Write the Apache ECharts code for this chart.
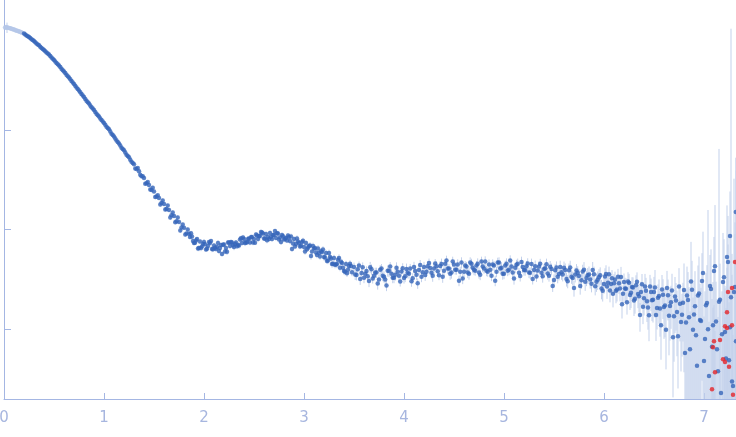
<!DOCTYPE html>
<html><head><meta charset="utf-8">
<script src="https://cdn.jsdelivr.net/npm/echarts@6/dist/echarts.min.js"></script>
<style>html,body{margin:0;padding:0;background:#fff}#c{width:736px;height:437px}</style>
</head><body><div id="c"></div>
<script>
// x tick labels / y tick positions
const xTicks = [0, 1, 2, 3, 4, 5, 6, 7];
const yTicks = [0.001, 0.01, 0.1];

// excluded low-q points (light)
const qLow = [0.01,0.02,0.03,0.04,0.05,0.06,0.07,0.08,0.09,0.10,0.11,0.12,0.13,0.14,0.15,0.16,0.17,0.18];
const iLow = [1.06,1.065,1.06,1.055,1.05,1.04,1.035,1.025,1.02,1.01,1.0,0.99,0.985,0.975,0.965,0.96,0.95,0.94];
const eLow = [4,6,12,5,4,4,3,3,3,3,3,3,3,3,3,3,3,3];

// Guinier / steep region
const qB = [0.2,0.225,0.25,0.275,0.3,0.325,0.35,0.375,0.4,0.425,0.45,0.475,0.5,0.525,0.55,0.575,0.6,0.625,0.65,0.675,0.7,0.725,0.75,0.775,0.8,0.825,0.85,0.875,0.9,0.925,0.95,0.975,1.0,1.025,1.05,1.075,1.1,1.125,1.15,1.175,1.2,1.225,1.25,1.275,1.3,1.325,1.35,1.375,1.4,1.425,1.45,1.475,1.5,1.525,1.55,1.575,1.6,1.625,1.65,1.675,1.7,1.725,1.75,1.775,1.8,1.825,1.85];
const iB = [0.925,0.881,0.853,0.809,0.778,0.733,0.702,0.659,0.631,0.595,0.569,0.530,0.501,0.467,0.442,0.409,0.384,0.356,0.334,0.308,0.288,0.265,0.248,0.228,0.213,0.196,0.183,0.168,0.158,0.145,0.136,0.125,0.117,0.107,0.101,0.0915,0.0858,0.0779,0.0730,0.0660,0.0622,0.0561,0.0529,0.0477,0.0451,0.0404,0.0385,0.0343,0.0328,0.0291,0.0279,0.0249,0.0240,0.0214,0.0207,0.0185,0.0180,0.0161,0.0157,0.0139,0.0137,0.0121,0.0119,0.0105,0.0104,0.00915,0.00905];
const eB = [2,1,1,2,1,1,2,1,1,1,2,1,1,1,2,1,1,1,2,1,1,2,1,1,1,2,1,1,2,1,1,2,2,2,3,2,2,2,3,2,2,2,3,2,3,3,4,3,3,3,4,3,3,4,3,3,4,3,4,3,4,4,3,4,4,3,4];
const qB3 = [0.2125,0.2375,0.2625,0.2875,0.3125,0.3375,0.3625,0.3875,0.4125,0.4375,0.4625,0.4875,0.5125,0.5375,0.5625,0.5875,0.6125,0.6375,0.6625,0.6875,0.7125,0.7375,0.7625,0.7875,0.8125,0.8375,0.8625,0.8875,0.9125,0.9375,0.9625,0.9875,1.0125,1.0375,1.0625,1.0875,1.1125,1.1375,1.1625,1.1875,1.2125,1.2375,1.2625,1.2875];
const iB3 = [0.903,0.867,0.831,0.793,0.755,0.717,0.680,0.645,0.613,0.582,0.549,0.515,0.484,0.454,0.425,0.396,0.370,0.345,0.321,0.298,0.276,0.256,0.238,0.220,0.204,0.189,0.175,0.163,0.151,0.140,0.130,0.121,0.112,0.104,0.0960,0.0886,0.0817,0.0754,0.0694,0.0641,0.0591,0.0545,0.0502,0.0464];
const eB3 = [1,2,1,1,2,1,1,1,2,1,1,2,1,1,1,2,1,1,2,1,1,1,2,1,1,2,1,1,1,2,1,1,2,2,2,3,2,2,3,2,2,3,2,3];
const qB2 = [1.3125,1.3375,1.3625,1.3875,1.4125,1.4375,1.4625,1.4875,1.5125,1.5375,1.5625,1.5875,1.6125,1.6375,1.6625,1.6875,1.7125,1.7375,1.7625,1.7875,1.8125,1.8375];
const iB2 = [0.0408,0.0413,0.0355,0.0343,0.0288,0.0299,0.0252,0.0262,0.0212,0.0220,0.0178,0.0196,0.0159,0.0174,0.0132,0.0148,0.0118,0.0132,0.00977,0.0112,0.00891,0.0100];
const eB2 = [3,4,3,4,4,3,4,5,4,4,5,4,5,4,5,5,4,5,5,4,5,5];

// first minimum and bump
const qC = [1.86,1.88,1.9,1.92,1.94,1.96,1.98,2.0,2.02,2.04,2.06,2.08,2.1,2.12,2.14,2.16,2.18,2.2,2.22,2.24,2.26,2.28,2.3,2.32,2.34,2.36,2.38,2.4,2.42,2.44,2.46,2.48,2.5,2.52,2.54,2.56,2.58,2.6,2.62,2.64,2.66,2.68,2.7,2.72,2.74,2.76,2.78,2.8,2.82,2.84,2.86,2.88,2.9,2.92,2.94,2.96,2.98,3.0,3.02,3.04,3.06,3.08,3.1,3.12,3.14,3.16,3.18,3.2,3.22,3.24,3.26,3.28,3.3,3.32,3.34,3.36,3.38,3.4,3.42,3.44,3.46,3.48];
const iC = [0.00840,0.00850,0.00732,0.00775,0.00645,0.00757,0.00675,0.00749,0.00630,0.00683,0.00732,0.00637,0.00691,0.00637,0.00732,0.00652,0.00567,0.00707,0.00652,0.00740,0.00683,0.00740,0.00667,0.00740,0.00699,0.00793,0.00732,0.00802,0.00740,0.00802,0.00740,0.00840,0.00802,0.00890,0.00802,0.00860,0.00932,0.00811,0.00901,0.00840,0.00922,0.00802,0.00880,0.00821,0.00911,0.00830,0.00880,0.00793,0.00821,0.00870,0.00766,0.00637,0.00802,0.00715,0.00757,0.00675,0.00749,0.00667,0.00732,0.00659,0.00691,0.00601,0.00645,0.00587,0.00645,0.00535,0.00594,0.00529,0.00581,0.00488,0.00529,0.00450,0.00517,0.00445,0.00499,0.00415,0.00461,0.00383,0.00450,0.00396,0.00455,0.00374];
const eC = [5,6,5,7,6,5,6,7,5,6,6,7,5,6,7,6,5,6,7,6,6,5,7,6,6,7,5,6,6,7,6,5,7,6,6,7,6,5,6,7,6,6,7,5,6,7,6,6,7,6,7,6,6,7,7,6,7,6,7,7,8,7,6,7,8,7,7,8,7,8,7,8,8,7,8,8,9,8,8,9,8,9];
const qC2 = [1.87,1.91,1.95,1.99,2.03,2.07,2.11,2.15,2.19,2.23,2.27,2.31,2.35,2.39,2.43,2.47,2.51,2.55,2.59,2.63,2.67,2.71,2.75,2.79,2.83,2.87,2.91,2.95,2.99,3.03,3.07,3.11,3.15,3.19,3.23,3.27,3.31,3.35,3.39,3.43,3.47];
const iC2 = [0.00916,0.00735,0.00652,0.00718,0.00642,0.00766,0.00656,0.00608,0.00702,0.00597,0.00752,0.00718,0.00691,0.00834,0.00745,0.00836,0.00735,0.00860,0.00911,0.00782,0.00840,0.00965,0.00793,0.00856,0.00778,0.00850,0.00677,0.00732,0.00773,0.00634,0.00542,0.00652,0.00581,0.00630,0.00485,0.00511,0.00444,0.00517,0.00415,0.00364,0.00432];
const eC2 = [6,5,7,6,6,5,7,6,6,7,5,6,7,6,6,7,5,6,6,7,6,5,7,6,6,7,6,7,7,6,8,7,7,8,7,8,8,9,8,8,9];
const qC3 = [1.89,1.93,1.97,2.01,2.05,2.09,2.13,2.17,2.21,2.25,2.29,2.33,2.37,2.41,2.45,2.49,2.53,2.57,2.61,2.65,2.69,2.73,2.77,2.81,2.85,2.89,2.93,2.97,3.01,3.05,3.09,3.13,3.17,3.21,3.25,3.29,3.33,3.37,3.41,3.45];
const iC3 = [0.00766,0.00802,0.00652,0.00711,0.00749,0.00634,0.00667,0.00699,0.00602,0.00740,0.00694,0.00681,0.00817,0.00733,0.00811,0.00740,0.00872,0.00945,0.00813,0.00802,0.00880,0.00916,0.00752,0.00806,0.00844,0.00723,0.00815,0.00686,0.00601,0.00683,0.00683,0.00554,0.00604,0.00523,0.00581,0.00455,0.00450,0.00474,0.00378,0.00430];
const eC3 = [6,5,7,6,5,6,7,6,6,5,7,6,6,7,5,6,7,6,6,7,5,6,7,6,7,6,7,6,7,7,8,7,8,7,8,8,9,8,8,9];

// plateau
const qD = [3.5,3.525,3.55,3.575,3.6,3.625,3.65,3.675,3.7,3.725,3.75,3.775,3.8,3.825,3.85,3.875,3.9,3.925,3.95,3.975,4.0,4.025,4.05,4.075,4.1,4.125,4.15,4.175,4.2,4.225,4.25,4.275,4.3,4.325,4.35,4.375,4.4,4.425,4.45,4.475,4.5,4.525,4.55,4.575,4.6,4.625,4.65,4.675,4.7,4.725,4.75,4.775,4.8,4.825,4.85,4.875,4.9,4.925,4.95,4.975,5.0,5.025,5.05,5.075,5.1,5.125,5.15,5.175,5.2,5.225,5.25,5.275,5.3,5.325,5.35,5.375,5.4,5.425,5.45,5.475,5.5,5.525,5.55,5.575,5.6,5.625,5.65,5.675,5.7,5.725,5.75,5.775,5.8,5.825,5.85,5.875,5.9,5.925,5.95,5.975];
const iD = [0.00420,0.00351,0.00435,0.00366,0.00329,0.00385,0.00304,0.00399,0.00345,0.00370,0.00315,0.00406,0.00337,0.00274,0.00387,0.00361,0.00329,0.00415,0.00345,0.00379,0.00326,0.00403,0.00361,0.00303,0.00420,0.00353,0.00392,0.00337,0.00420,0.00378,0.00461,0.00368,0.00406,0.00428,0.00349,0.00452,0.00387,0.00488,0.00406,0.00370,0.00445,0.00396,0.00307,0.00466,0.00378,0.00425,0.00361,0.00455,0.00396,0.00435,0.00370,0.00477,0.00406,0.00387,0.00445,0.00345,0.00435,0.00378,0.00466,0.00415,0.00361,0.00455,0.00396,0.00425,0.00322,0.00444,0.00368,0.00473,0.00392,0.00428,0.00370,0.00452,0.00392,0.00339,0.00425,0.00368,0.00401,0.00448,0.00345,0.00403,0.00311,0.00416,0.00359,0.00373,0.00415,0.00319,0.00390,0.00336,0.00259,0.00388,0.00342,0.00310,0.00396,0.00326,0.00355,0.00286,0.00357,0.00300,0.00333,0.00256];
const eD = [11,12,10,13,12,11,13,12,11,12,12,11,13,12,14,11,12,13,12,11,12,13,11,12,13,12,11,12,13,12,11,12,13,12,11,13,12,12,11,13,12,11,12,13,12,11,13,12,12,11,13,12,11,12,13,12,11,12,13,12,12,13,12,11,13,12,12,13,12,13,12,13,14,12,13,13,12,14,13,13,14,15,14,16,15,16,17,15,18,16,17,18,19,17,20,18,19,21,20,22];
const qD2 = [3.512,3.537,3.562,3.587,3.612,3.637,3.662,3.687,3.712,3.737,3.762,3.787,3.812,3.837,3.862,3.887,3.912,3.937,3.962,3.987,4.012,4.037,4.062,4.087,4.112,4.137,4.162,4.187,4.212,4.237,4.262,4.287,4.312,4.337,4.362,4.387,4.412,4.437,4.462,4.487,4.512,4.537,4.562,4.587,4.612,4.637,4.662,4.687,4.712,4.737,4.762,4.787,4.812,4.837,4.862,4.887,4.912,4.937,4.962,4.987,5.012,5.037,5.062,5.087,5.112,5.137,5.162,5.187,5.212,5.237,5.262,5.287,5.312,5.337,5.362,5.387,5.412,5.437,5.462,5.487,5.512,5.537,5.562,5.587,5.612,5.637,5.662,5.687,5.712,5.737,5.762,5.787,5.812,5.837,5.862,5.887,5.912,5.937,5.962,5.987];
const iD2 = [0.00354,0.00400,0.00320,0.00418,0.00360,0.00341,0.00419,0.00323,0.00370,0.00287,0.00396,0.00345,0.00315,0.00387,0.00425,0.00329,0.00353,0.00378,0.00301,0.00410,0.00341,0.00369,0.00407,0.00325,0.00385,0.00289,0.00442,0.00373,0.00351,0.00428,0.00412,0.00344,0.00456,0.00381,0.00431,0.00336,0.00455,0.00406,0.00361,0.00477,0.00396,0.00445,0.00378,0.00322,0.00435,0.00370,0.00466,0.00415,0.00387,0.00455,0.00353,0.00425,0.00477,0.00378,0.00396,0.00445,0.00307,0.00466,0.00406,0.00361,0.00435,0.00387,0.00488,0.00370,0.00415,0.00453,0.00342,0.00420,0.00391,0.00456,0.00369,0.00319,0.00429,0.00388,0.00454,0.00341,0.00410,0.00362,0.00424,0.00272,0.00390,0.00336,0.00420,0.00355,0.00394,0.00303,0.00416,0.00327,0.00355,0.00369,0.00271,0.00379,0.00299,0.00348,0.00316,0.00394,0.00270,0.00314,0.00348,0.00243];
const eD2 = [12,11,13,12,11,12,13,11,12,13,11,12,12,13,11,12,13,12,11,12,13,12,11,12,13,12,12,11,13,12,12,13,11,12,12,13,11,12,13,12,11,13,12,12,11,12,13,12,11,13,12,12,13,11,12,13,12,12,11,13,12,12,13,12,12,13,12,13,12,13,13,12,14,13,12,14,13,13,14,13,15,14,16,15,16,15,17,16,17,16,18,17,19,18,19,20,19,21,20,22];

// noisy high-q tail
const qE = [6.0,6.02,6.04,6.06,6.08,6.1,6.12,6.14,6.16,6.18,6.2,6.22,6.24,6.26,6.28,6.3,6.32,6.34,6.36,6.38,6.4,6.42,6.44,6.46,6.48,6.5,6.52,6.54,6.56,6.58,6.6,6.62,6.64,6.66,6.68,6.7,6.72,6.74,6.76,6.78,6.8,6.82,6.84,6.86,6.88,6.9,6.92,6.94,6.96,6.98,7.0,7.02,7.04,7.06,7.08,7.1,7.12,7.14,7.16,7.18,7.2,7.22,7.24,7.26,7.28,7.3,7.32];
const iE = [0.00284,0.00359,0.00293,0.00245,0.00324,0.00290,0.00243,0.00336,0.00257,0.00178,0.00297,0.00255,0.00301,0.00220,0.00266,0.00194,0.00276,0.00226,0.00139,0.00282,0.00205,0.00243,0.00165,0.00268,0.00195,0.00236,0.00139,0.00207,0.00162,0.00250,0.00167,0.00099,0.00219,0.00171,0.00245,0.00135,0.00194,0.00085,0.00180,0.00140,0.00247,0.00117,0.00197,0.00063,0.00249,0.00141,0.00087,0.00218,0.00124,0.00305,0.00048,0.00174,0.00100,0.00271,0.00067,0.00383,0.00120,0.00038,0.00198,0.00089,0.00333,0.00051,0.00472,0.00105,0.00030,0.00236,0.00076];
const eE = [20,22,19,24,21,23,25,20,26,28,22,27,24,29,25,30,26,28,32,27,33,35,40,31,38,42,45,36,48,40,52,60,44,55,47,65,50,70,58,62,85,110,90,140,95,120,160,100,130,90,180,110,1470,105,200,120,150,250,130,170,140,220,190,160,300,1270,200];
const qE2 = [6.01,6.03,6.05,6.07,6.09,6.11,6.13,6.15,6.17,6.19,6.21,6.23,6.25,6.27,6.29,6.31,6.33,6.35,6.37,6.39,6.41,6.43,6.45,6.47,6.49,6.51,6.53,6.55,6.57,6.59,6.61,6.63,6.65,6.67,6.69,6.71,6.73,6.75,6.77,6.79,6.81,6.83,6.85,6.87,6.89,6.91,6.93,6.95,6.97,6.99,7.01,7.03,7.05,7.07,7.09,7.11,7.13,7.15,7.17,7.19,7.21,7.23,7.25,7.27,7.29,7.31,7.26,7.318,7.322];
const iE2 = [0.00338,0.00269,0.00357,0.00285,0.00227,0.00315,0.00250,0.00290,0.00335,0.00227,0.00257,0.00187,0.00292,0.00233,0.00263,0.00202,0.00300,0.00214,0.00236,0.00168,0.00268,0.00191,0.00138,0.00237,0.00198,0.00262,0.00163,0.00215,0.00110,0.00222,0.00173,0.00260,0.00137,0.00187,0.00083,0.00213,0.00149,0.00268,0.00118,0.00184,0.00058,0.00218,0.00132,0.00301,0.00099,0.00170,0.00043,0.00228,0.00121,0.00366,0.00080,0.00183,0.00034,0.00253,0.00110,0.00429,0.00063,0.00189,0.00023,0.00298,0.00094,0.00529,0.00049,0.00210,0.00027,0.00265,0.00860,0.0150,0.0130];
const eE2 = [21,25,19,23,27,20,24,22,26,21,28,25,23,30,26,29,24,31,27,33,34,38,45,36,41,50,39,47,55,43,52,48,60,46,75,57,64,53,68,59,120,95,100,150,110,125,180,135,115,160,200,140,250,150,170,310,220,3300,260,210,190,230,280,49000,300,240,180,250,200];

// flagged points (red)
const qRed = [7.31,7.28,7.24,7.23,7.21,7.23,7.28,7.10,7.16,7.09,7.19,7.21,7.25,7.11,7.08,7.29];
const iRed = [0.00472,0.00259,0.00236,0.00148,0.00107,0.00103,0.00110,0.00076,0.00078,0.00066,0.00050,0.00047,0.00042,0.00037,0.00025,0.00022];
const eRed = [150,120,200,180,140,160,220,130,170,150,200,180,250,160,220,300];

const Y_MIN = 0.0002, Y_MAX = 2;

function points(qs, is) {
  const n = Math.min(qs.length, is.length), out = [];
  for (let k = 0; k < n; k++) out.push([qs[k], is[k]]);
  return out;
}
function bars(qs, is, es) {
  const n = Math.min(qs.length, is.length), out = [];
  for (let k = 0; k < n; k++) {
    const r = (es[k] !== undefined ? es[k] : 0) / 100;
    const lo = Math.max(is[k] * (1 - r), Y_MIN);
    const hi = is[k] * (1 + r);
    out.push([qs[k], lo, hi]);
  }
  return out;
}

const mainPts = [].concat(points(qB, iB), points(qB3, iB3), points(qB2, iB2), points(qC, iC),
  points(qC2, iC2), points(qC3, iC3), points(qD, iD), points(qD2, iD2), points(qE, iE), points(qE2, iE2));
const barData = [].concat(bars(qLow, iLow, eLow), bars(qB, iB, eB), bars(qB3, iB3, eB3), bars(qB2, iB2, eB2),
  bars(qC, iC, eC), bars(qC2, iC2, eC2), bars(qC3, iC3, eC3), bars(qD, iD, eD), bars(qD2, iD2, eD2),
  bars(qE, iE, eE), bars(qE2, iE2, eE2), bars(qRed, iRed, eRed));

const axisColor = '#a4b6e3';
const chart = echarts.init(document.getElementById('c'), null, {renderer: 'canvas'});
chart.setOption({
  animation: false,
  grid: {left: 4, right: 0, top: 0, bottom: 38, containLabel: false, outerBoundsMode: 'none'},
  xAxis: {
    type: 'value', min: 0, max: 7.32, interval: 1,
    axisLine: {show: true, lineStyle: {color: axisColor, width: 1}},
    axisTick: {show: true, inside: true, length: 6, customValues: xTicks, lineStyle: {color: axisColor}},
    axisLabel: {show: true, customValues: xTicks, color: '#a7b6df', fontSize: 15, margin: 12, fontFamily: 'DejaVu Sans'},
    splitLine: {show: false}
  },
  yAxis: {
    type: 'log', logBase: 10, min: Y_MIN, max: Y_MAX,
    axisLine: {show: true, lineStyle: {color: axisColor, width: 1}},
    axisTick: {show: true, inside: true, length: 7, customValues: yTicks, lineStyle: {color: axisColor}},
    axisLabel: {show: false},
    splitLine: {show: false}
  },
  series: [
    {
      type: 'custom', clip: true, silent: true,
      data: barData,
      encode: {x: 0, y: [1, 2]},
      renderItem: function (params, api) {
        const x = api.value(0);
        const p1 = api.coord([x, api.value(1)]);
        const p2 = api.coord([x, api.value(2)]);
        return {type: 'line', shape: {x1: p1[0], y1: p1[1], x2: p2[0], y2: p2[1]},
          style: {stroke: '#c3d1eb', lineWidth: 1}};
      },
      z: 1
    },
    {type: 'scatter', data: points(qLow, iLow), symbol: 'circle', symbolSize: 4.5,
      itemStyle: {color: '#b5c7e8'}, z: 2, silent: true},
    {type: 'scatter', data: mainPts, symbol: 'circle', symbolSize: 4.5,
      itemStyle: {color: '#3767ba'}, z: 3, silent: true},
    {type: 'scatter', data: points(qRed, iRed), symbol: 'circle', symbolSize: 4.5,
      itemStyle: {color: '#e5262b'}, z: 4, silent: true}
  ]
});
</script>
</body></html>
